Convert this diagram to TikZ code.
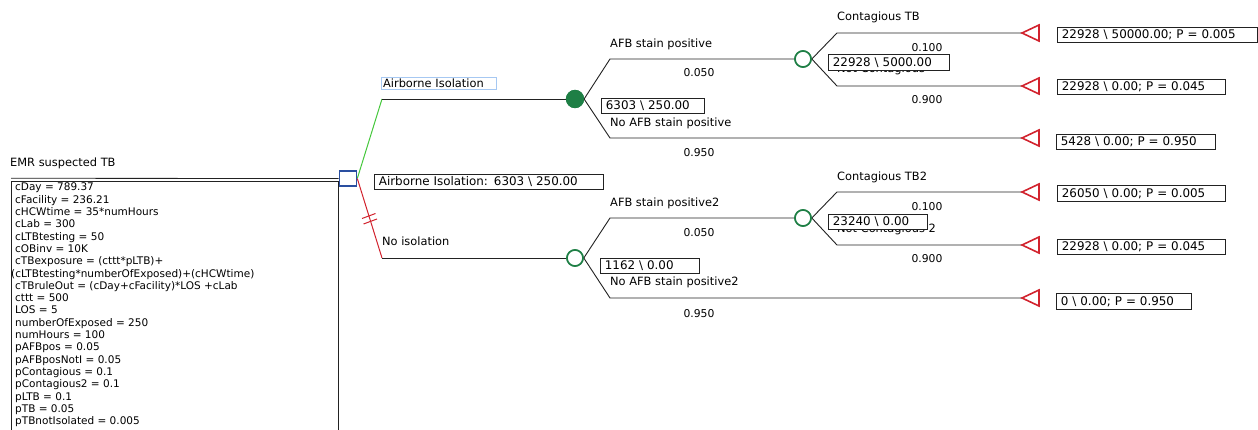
\documentclass[tikz,border=0pt]{standalone}
\usepackage{fontspec}
\setmainfont{DejaVu Sans}
\definecolor{lnblack}{HTML}{222222}
\definecolor{treegreen}{HTML}{1E7F45}
\definecolor{lightgrn}{HTML}{45C83C}
\definecolor{treered}{HTML}{D2232E}
\definecolor{treeblue}{HTML}{2A4FA0}
\definecolor{selblue}{HTML}{A6C8F2}
\begin{document}
\begin{tikzpicture}[x=1pt,y=-1pt,
  font=\fontsize{11.4}{12.3}\selectfont,
  branch/.style={draw=lnblack,line width=0.9pt},
  lbl/.style={anchor=base west,inner sep=0pt,font=\fontsize{11.4}{12.3}\selectfont},
  prob/.style={anchor=base,inner sep=0pt,font=\fontsize{10.8}{12.3}\selectfont},
  valbox/.style={draw=lnblack,line width=0.8pt,fill=white,inner xsep=4.5pt,inner ysep=0pt,
    minimum height=15pt,anchor=north west,align=left,font=\fontsize{11.9}{12.3}\selectfont},
  chance/.style={circle,draw=treegreen,line width=1.6pt,fill=white,minimum size=16pt,inner sep=0pt},
  chancefill/.style={circle,draw=treegreen,line width=1.2pt,fill=treegreen,minimum size=17pt,inner sep=0pt},
  decision/.style={rectangle,draw=treeblue,line width=1.6pt,fill=white,minimum width=17pt,minimum height=15pt,inner sep=0pt},
  term/.style={draw=treered,line width=1.6pt,fill=white,line join=miter}
]
\useasboundingbox[fill=white] (0,0) rectangle (1258,430);

% ---------- left variable box ----------
\node[lbl] (root) at (10,167) {EMR suspected TB};
\draw[lnblack,line width=0.8pt] (11,181.5) -- (11,440);
\draw[lnblack,line width=0.8pt] (11,181.5) -- (338,181.5) -- (338,440);
\node[anchor=north west,inner sep=0pt,align=left,font=\fontsize{10.5}{12.3}\selectfont] (vars) at (15,183) {%
cDay = 789.37\\
cFacility = 236.21\\
cHCWtime = 35*numHours\\
cLab = 300\\
cLTBtesting = 50\\
cOBinv = 10K\\
cTBexposure = (cttt*pLTB)+\\
\hspace*{-4pt}(cLTBtesting*numberOfExposed)+(cHCWtime)\\
cTBruleOut = (cDay+cFacility)*LOS +cLab\\
cttt = 500\\
LOS = 5\\
numberOfExposed = 250\\
numHours = 100\\
pAFBpos = 0.05\\
pAFBposNotI = 0.05\\
pContagious = 0.1\\
pContagious2 = 0.1\\
pLTB = 0.1\\
pTB = 0.05\\
pTBnotIsolated = 0.005};

% ---------- nodes ----------
\node[decision] (dec) at (348,178.5) {};
\node[chancefill] (c1) at (575,99) {};
\node[chance] (c2) at (575,258) {};
\node[chance] (c3) at (803,59) {};
\node[chance] (c4) at (803,218) {};

\coordinate (a1) at (382,99);
\coordinate (a2) at (382,258);
\coordinate (b1) at (610,59);
\coordinate (b2) at (610,138);
\coordinate (b3) at (610,218);
\coordinate (b4) at (610,298);
\coordinate (d1) at (837,33);
\coordinate (d2) at (837,86);
\coordinate (d3) at (837,192);
\coordinate (d4) at (837,245);
\coordinate (t1) at (1022,33);
\coordinate (t2) at (1022,86);
\coordinate (t3) at (1022,138);
\coordinate (t4) at (1022,192);
\coordinate (t5) at (1022,245);
\coordinate (t6) at (1022,298);

% double line into decision node
\draw[lnblack,line width=0.8pt] (11,178.3) -- (dec.west);

% ---------- connectors ----------
\draw[lightgrn,line width=1pt] (dec.east) -- (a1);
\draw[treered,line width=1pt] (dec.east) -- (a2);
\draw[treered,line width=1pt] (362,218.5) -- (375.5,213.5);
\draw[treered,line width=1pt] (363.5,224) -- (377,219);
\draw[branch] (a1) -- (c1.west);
\draw[branch] (a2) -- (c2.west);
\draw[branch] (c1.east) -- (b1) -- (c3.west);
\draw[branch] (c1.east) -- (b2) -- (t3);
\draw[branch] (c2.east) -- (b3) -- (c4.west);
\draw[branch] (c2.east) -- (b4) -- (t6);
\draw[branch] (c3.east) -- (d1) -- (t1);
\draw[branch] (c3.east) -- (d2) -- (t2);
\draw[branch] (c4.east) -- (d3) -- (t4);
\draw[branch] (c4.east) -- (d4) -- (t5);

% redraw nodes on top
\node[decision] at (dec) {};
\node[chancefill] at (c1) {};
\node[chance] at (c2) {};
\node[chance] at (c3) {};
\node[chance] at (c4) {};

% terminal triangles
\foreach \t in {t1,t2,t3,t4,t5,t6}
  \draw[term] (\t) -- ++(17,-8) -- ++(0,16) -- cycle;

% ---------- branch labels ----------
\node[draw=selblue,line width=1.2pt,anchor=north west,inner xsep=1.5pt,inner ysep=0pt,
  minimum height=12pt,text width=112pt,align=left,font=\fontsize{11.4}{12.3}\selectfont] (lai) at (381,77) {Airborne Isolation};
\node[lbl] (lno) at (382,246) {No isolation};

\node[lbl] (l1) at (610,48) {AFB stain positive};
\node[prob] (p1) at (699,77) {0.050};
\node[lbl] (l2) at (610,126.5) {No AFB stain positive};
\node[prob] (p2) at (699,157) {0.950};

\node[lbl] (l3) at (610,207) {AFB stain positive2};
\node[prob] (p3) at (699,237) {0.050};
\node[lbl] (l4) at (610,285.5) {No AFB stain positive2};
\node[prob] (p4) at (699,317) {0.950};

\node[lbl] (l5) at (837,21) {Contagious TB};
\node[prob] (p5) at (927,52) {0.100};
\node[lbl] (l6) at (837,73) {Not Contagious};
\node[prob] (p6) at (927,104) {0.900};

\node[lbl] (l7) at (837,181) {Contagious TB2};
\node[prob] (p7) at (927,211) {0.100};
\node[lbl] (l8) at (837,233) {Not Contagious 2};
\node[prob] (p8) at (927,263) {0.900};

% ---------- value boxes ----------
\node[valbox,text width=220pt] (vai) at (374,174) {Airborne Isolation: 6303 \textbackslash{} 250.00};
\node[valbox,text width=94pt] (v1) at (601,98) {6303 \textbackslash{} 250.00};
\node[valbox,text width=90pt] (v2) at (600,258) {1162 \textbackslash{} 0.00};
\node[valbox,text width=112pt,minimum height=16pt] (v3) at (828,54) {22928 \textbackslash{} 5000.00};
\node[valbox,text width=90pt] (v4) at (828,214) {23240 \textbackslash{} 0.00};

\node[valbox,text width=191pt] (e1) at (1057,27) {22928 \textbackslash{} 50000.00; P = 0.005};
\node[valbox,text width=159pt] (e2) at (1057,79) {22928 \textbackslash{} 0.00; P = 0.045};
\node[valbox,text width=150pt] (e3) at (1056,134) {5428 \textbackslash{} 0.00; P = 0.950};
\node[valbox,text width=159pt,minimum height=16pt] (e4) at (1057,185) {26050 \textbackslash{} 0.00; P = 0.005};
\node[valbox,text width=159pt] (e5) at (1057,239) {22928 \textbackslash{} 0.00; P = 0.045};
\node[valbox,text width=126pt,minimum height=16pt] (e6) at (1056,293) {0 \textbackslash{} 0.00; P = 0.950};
\end{tikzpicture}
\end{document}
